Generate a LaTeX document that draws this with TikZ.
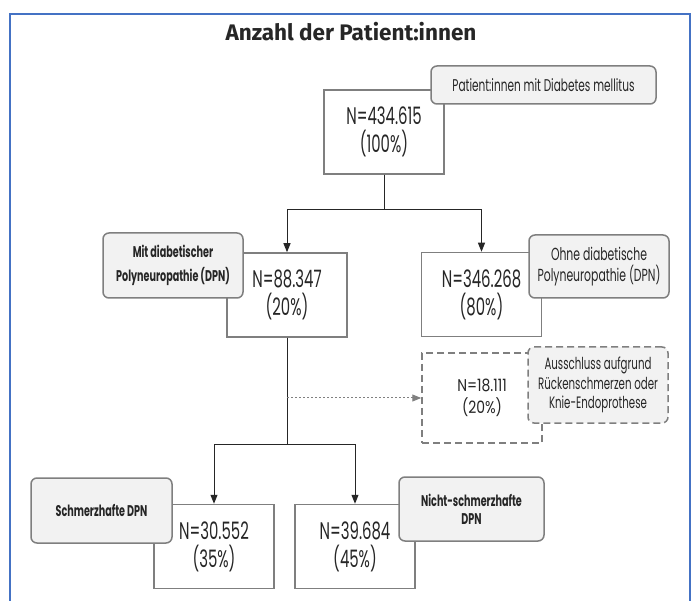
\documentclass[tikz,border=0pt]{standalone}
\usepackage{fontspec}
\setmainfont{Poppins}[FakeStretch=0.62, Numbers=Monospaced]
\newfontfamily\widenum{Poppins}[FakeStretch=0.82]
\newfontfamily\titlefont{Fira Sans}
\usetikzlibrary{arrows.meta}
\definecolor{frameblue}{HTML}{4472C4}
\definecolor{boxgray}{HTML}{7F7F7F}
\definecolor{labelfill}{HTML}{F2F2F2}
\definecolor{txt}{HTML}{262626}
\tikzset{
  numbox/.style={draw=boxgray, line width=1.5pt, fill=white, minimum width=120pt, minimum height=84pt,
    align=center, inner sep=0pt, font=\fontsize{24}{28}\selectfont, text=txt},
  lab/.style={draw=boxgray, line width=1.5pt, fill=labelfill, rounded corners=6pt, align=center,
    inner sep=0pt, text=txt},
  dashline/.style={dash pattern=on 7pt off 4pt},
  conn/.style={draw=black!85, line width=1pt, -{Triangle[length=9pt,width=7pt]}},
  dotconn/.style={draw=black!50, line width=1pt, dash pattern=on 2pt off 2pt,
    -{Triangle[length=9pt,width=7pt]}},
}
\begin{document}
\begin{tikzpicture}[x=1pt,y=-1pt]
\clip (0,0) rectangle (696,601);
\fill[white] (0,0) rectangle (696,601);
\draw[frameblue, line width=2pt] (10,620) -- (10,14) -- (690,14) -- (690,620);

\node[font=\titlefont\bfseries\fontsize{22.5}{26}\selectfont, text=txt] (title) at (351,32) {Anzahl der Patient:innen};

% number boxes
\node[numbox] (top) at (384,132) {N=434.615\\(100\%)};
\node[numbox] (dpn) at (287,295) {N=88.347\\(20\%)};
\node[numbox] (nodpn) at (481.5,294.5) {N=346.268\\(80\%)};
\node[numbox, dashline, minimum height=90pt, font=\widenum\fontsize{17}{22}\selectfont] (excl) at (482,398) {N=18.111\\(20\%)};
\node[numbox] (pain) at (214,546.5) {N=30.552\\(35\%)};
\node[numbox] (nopain) at (355,546.5) {N=39.684\\(45\%)};

% labels
\node[lab, minimum width=225pt, minimum height=38pt, font=\fontsize{17}{19}\selectfont] (toplab) at (543.5,85) {Patient:innen mit Diabetes mellitus};
\node[lab, minimum width=140pt, minimum height=65pt, font=\bfseries\fontsize{15.5}{24}\selectfont] (dpnlab) at (173,265.5) {Mit diabetischer\\Polyneuropathie (DPN)};
\node[lab, minimum width=140pt, minimum height=63pt, font=\fontsize{17.5}{21}\selectfont] (nodpnlab) at (599,266.5) {Ohne diabetische\\Polyneuropathie (DPN)};
\node[lab, dashline, minimum width=140pt, minimum height=76pt, font=\fontsize{16.5}{19.5}\selectfont] (excllab) at (598,385) {Ausschluss aufgrund\\Rückenschmerzen oder\\Knie-Endoprothese};
\node[lab, minimum width=141pt, minimum height=65pt, font=\bfseries\fontsize{15.5}{18}\selectfont] (painlab) at (101.5,510.5) {Schmerzhafte DPN};
\node[lab, minimum width=145pt, minimum height=64pt, font=\bfseries\fontsize{15.5}{18}\selectfont] (nopainlab) at (471.5,509) {Nicht-schmerzhafte\\DPN};

% connectors
\draw[conn] (top.south) -- ++(0,35) -| (dpn.north);
\draw[conn] (top.south) -- ++(0,35) -| (nodpn.north);
\draw[conn] (dpn.south) -- ++(0,107) -| (pain.north);
\draw[conn] (dpn.south) -- ++(0,107) -| (nopain.north);
\coordinate (tap) at (dpn.south |- excl.west);
\draw[dotconn] (tap) -- (excl.west);
\end{tikzpicture}
\end{document}
